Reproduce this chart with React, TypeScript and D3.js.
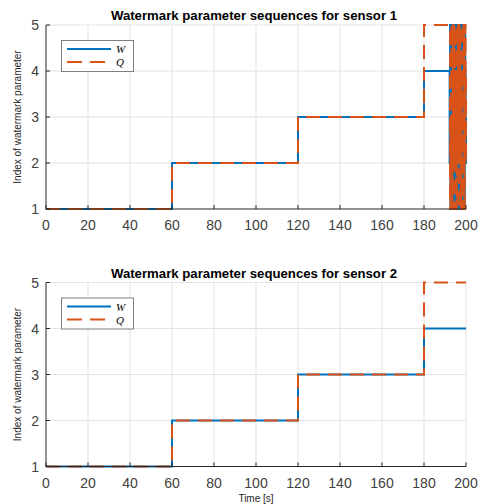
import React from "react";
import * as d3 from "d3";

// ---- data ----
const stepTimes = [0, 60, 120, 180];
const w1Levels = [1, 2, 3, 4];
const q1Levels = [1, 2, 3, 5];
const w2Levels = [1, 2, 3, 4];
const q2Levels = [1, 2, 3, 5];

// sensor 1: rapid switching near the end of the run
const burstStart = 192.2;
const burstStep = 0.2;
const w1Burst = [2, 5, 1, 4, 3, 5, 2, 1, 4, 5, 3, 1, 2, 5, 4, 1, 3, 2, 5, 1, 4, 3, 1, 5, 2, 4, 1, 3, 5, 2, 1, 4, 5, 3, 2, 1, 5, 4, 2, 3];
const q1Burst = [5, 1, 3, 2, 5, 4, 1, 3, 5, 2, 4, 1, 5, 3, 2, 4, 1, 5, 3, 2, 5, 1, 4, 2, 5, 3, 1, 4, 2, 5, 3, 1, 2, 5, 4, 1, 3, 5, 2, 4];

const xTicks = [0, 20, 40, 60, 80, 100, 120, 140, 160, 180, 200];
const yTicks = [1, 2, 3, 4, 5];
const titles = ["Watermark parameter sequences for sensor 1", "Watermark parameter sequences for sensor 2"];
const yLabel = "Index of watermark parameter";
const xLabel = "Time [s]";
const legendLabels = ["W", "Q"];

type Pt = [number, number];

function buildSeries(levels: number[], burst?: number[]): Pt[] {
  const pts: Pt[] = stepTimes.map((t, i) => [t, levels[i]] as Pt);
  if (burst) {
    burst.forEach((v, i) => pts.push([burstStart + i * burstStep, v]));
  }
  pts.push([200, pts[pts.length - 1][1]]);
  return pts;
}

const BLUE = "#0072BD";
const ORANGE = "#D95319";
const AX = "#262626";
const FONT = "'Liberation Sans', Arial, Helvetica, sans-serif";

function Panel({ top, title, w, q, showXLabel }: { top: number; title: string; w: Pt[]; q: Pt[]; showXLabel: boolean }) {
  const left = 46, right = 466;
  const yTop = top, yBot = top + 184;
  const x = d3.scaleLinear().domain([0, 200]).range([left, right]);
  const y = d3.scaleLinear().domain([1, 5]).range([yBot, yTop]);
  const line = d3.line<Pt>().x(d => x(d[0])).y(d => y(d[1])).curve(d3.curveStepAfter);
  const legX = 61, legY = top + 15;
  return (
    <g>
      {/* grid */}
      {xTicks.filter(t => t > 0).map(t => (
        <line key={"gx" + t} x1={x(t)} x2={x(t)} y1={yTop} y2={yBot} stroke="#e3e3e3" strokeWidth={1} />
      ))}
      {yTicks.filter(t => t > 1).map(t => (
        <line key={"gy" + t} x1={left} x2={right} y1={y(t)} y2={y(t)} stroke="#e3e3e3" strokeWidth={1} />
      ))}
      {/* title */}
      <text x={254} y={top - 5} textAnchor="middle" fontFamily={FONT} fontWeight="bold" fontSize={13.2} fill="#000">{title}</text>
      {/* series */}
      <path d={line(w) || ""} fill="none" stroke={BLUE} strokeWidth={2} />
      <path d={line(q) || ""} fill="none" stroke={ORANGE} strokeWidth={2} strokeDasharray="14,8" />
      {/* axes */}
      <line x1={left} x2={left} y1={yTop} y2={yBot + 0.5} stroke={AX} strokeWidth={1} />
      <line x1={left} x2={right} y1={yBot} y2={yBot} stroke={AX} strokeWidth={1} />
      {xTicks.map(t => (
        <g key={"xt" + t}>
          <line x1={x(t)} x2={x(t)} y1={yBot} y2={yBot - 4} stroke={AX} strokeWidth={1} />
          <text x={x(t)} y={yBot + 21} textAnchor="middle" fontFamily={FONT} fontSize={14} fill="#404040">{t}</text>
        </g>
      ))}
      {yTicks.map(t => (
        <g key={"yt" + t}>
          <line x1={left} x2={left + 4} y1={y(t)} y2={y(t)} stroke={AX} strokeWidth={1} />
          <text x={39} y={y(t) + 5} textAnchor="end" fontFamily={FONT} fontSize={14} fill="#404040">{t}</text>
        </g>
      ))}
      <text transform={`translate(21,${(yTop + yBot) / 2}) rotate(-90)`} textAnchor="middle" fontFamily={FONT} fontSize={10} fill={AX}>{yLabel}</text>
      {showXLabel && (
        <text x={256} y={yBot + 35} textAnchor="middle" fontFamily={FONT} fontSize={10} fill={AX}>{xLabel}</text>
      )}
      {/* legend */}
      <rect x={legX + 0.5} y={legY + 0.5} width={72} height={31} fill="#fff" stroke="#7f7f7f" strokeWidth={1} />
      <line x1={legX + 6} x2={legX + 50} y1={legY + 9} y2={legY + 9} stroke={BLUE} strokeWidth={2} />
      <line x1={legX + 6} x2={legX + 50} y1={legY + 22} y2={legY + 22} stroke={ORANGE} strokeWidth={2} strokeDasharray="15,8" />
      <text x={legX + 55} y={legY + 13} fontFamily="'Liberation Serif', serif" fontStyle="italic" fontSize={11} fill="#000">{legendLabels[0]}</text>
      <text x={legX + 55} y={legY + 26} fontFamily="'Liberation Serif', serif" fontStyle="italic" fontSize={11} fill="#000">{legendLabels[1]}</text>
    </g>
  );
}

export default function App() {
  const w1 = buildSeries(w1Levels, w1Burst);
  const q1 = buildSeries(q1Levels, q1Burst);
  const w2 = buildSeries(w2Levels);
  const q2 = buildSeries(q2Levels);
  return (
    <svg width={483} height={504} style={{ position: "absolute", left: 0, top: 0, background: "#fff" }}>
      <rect width={483} height={504} fill="#fff" />
      <Panel top={25} title={titles[0]} w={w1} q={q1} showXLabel={false} />
      <Panel top={282.5} title={titles[1]} w={w2} q={q2} showXLabel={true} />
    </svg>
  );
}
